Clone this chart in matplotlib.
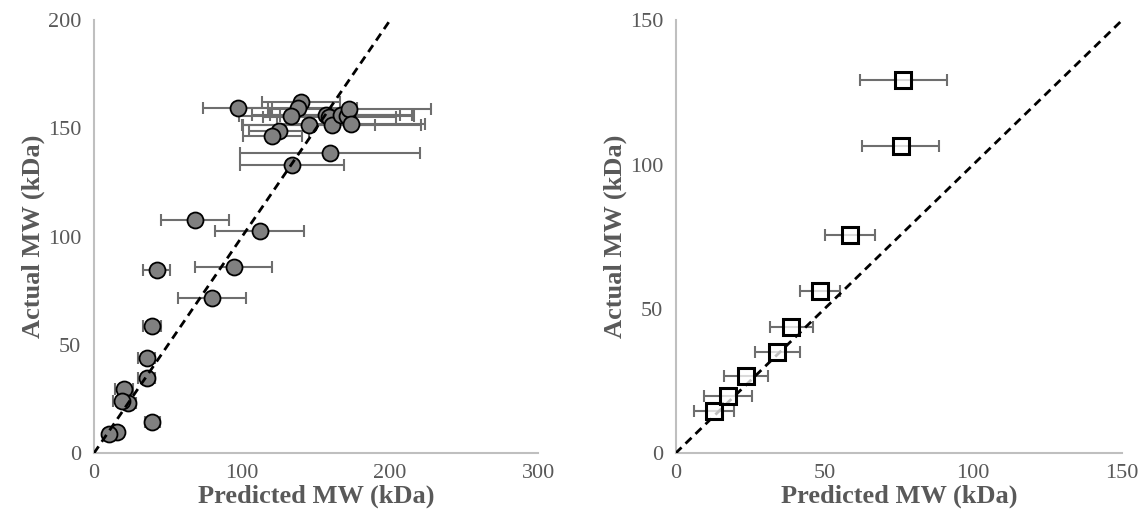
import matplotlib.pyplot as plt

# left panel: predicted vs actual MW (kDa), with x error (half widths)
left_pred = [97, 140, 138, 133, 145, 125, 120.5, 157, 159, 161, 167, 171, 172.5, 173.4,
             159.5, 133.6, 68.2, 112, 42.3, 94.6, 79.5, 39.4, 35.6, 35.6, 20.3, 22.7,
             18.9, 39.4, 15.3, 10.1]
left_actual = [159.4, 162.4, 159.4, 155.6, 151.7, 149, 146.7, 156.3, 155.2, 151.4, 156,
               155.6, 158.9, 152.2, 138.7, 133, 107.7, 102.7, 84.7, 85.8, 71.6, 58.7,
               44.1, 34.8, 29.6, 23.4, 24, 14.3, 10, 8.7]
left_err = [23, 26.5, 40, 35, 45, 20, 20, 50, 45, 60, 48, 45, 55, 50,
            61, 35, 23, 30, 9, 26, 23, 6, 6, 6, 6, 6, 6, 5, 3, 3]

# right panel
right_pred = [12.9, 17.6, 23.7, 34.2, 38.9, 48.6, 58.6, 75.6, 76.5]
right_actual = [14.7, 20, 26.6, 35, 43.8, 56.2, 75.6, 106.4, 129.4]
right_err = [6.6, 8.2, 7.5, 7.6, 7.2, 6.7, 8.5, 13, 14.6]

grey = "#595959"
serif = ["Liberation Serif", "DejaVu Serif"]

fig = plt.figure(figsize=(11.45, 5.18), dpi=100)
ax1 = fig.add_axes([0.082, 0.125, 0.388, 0.836])
ax2 = fig.add_axes([0.590, 0.125, 0.390, 0.836])


def style(ax, lim, ticks):
    ax.set_xlim(0, lim[0])
    ax.set_ylim(0, lim[1])
    ax.set_xticks(ticks[0])
    ax.set_yticks(ticks[1])
    for s in ["top", "right"]:
        ax.spines[s].set_visible(False)
    for s in ["left", "bottom"]:
        ax.spines[s].set_color("#BFBFBF")
        ax.spines[s].set_linewidth(1.5)
    ax.tick_params(length=0, labelsize=16, labelcolor=grey)
    ax.tick_params(axis="y", pad=9)
    ax.tick_params(axis="x", pad=8)
    for lab in ax.get_xticklabels() + ax.get_yticklabels():
        lab.set_family(serif)
    ax.set_xlabel("Predicted MW (kDa)", family=serif, fontsize=19, fontweight="bold",
                  color=grey, labelpad=1)
    ax.set_ylabel("Actual MW (kDa)", family=serif, fontsize=19, fontweight="bold",
                  color=grey, labelpad=2)


ax1.errorbar(left_pred, left_actual, xerr=left_err, fmt="none", ecolor="#6E6E6E",
             elinewidth=1.5, capsize=4, capthick=1.5, zorder=2)
ax1.plot(left_pred, left_actual, "o", ms=11.5, mfc="#808080", mec="black", mew=1.3, zorder=3)
ax1.plot([0, 200], [0, 200], "--", color="black", lw=2, dashes=(3, 2), zorder=4)
style(ax1, (300, 200), ([0, 100, 200, 300], [0, 50, 100, 150, 200]))

ax2.errorbar(right_pred, right_actual, xerr=right_err, fmt="none", ecolor="#6E6E6E",
             elinewidth=1.5, capsize=4, capthick=1.5, zorder=2)
ax2.plot([0, 150], [0, 150], "--", color="black", lw=2, dashes=(3, 2), zorder=3)
ax2.plot(right_pred, right_actual, "s", ms=12, mfc=(1, 1, 1, 0.75), mec="black", mew=2.2,
         zorder=4)
style(ax2, (150, 150), ([0, 50, 100, 150], [0, 50, 100, 150]))

fig.savefig("out.png", dpi=100)
